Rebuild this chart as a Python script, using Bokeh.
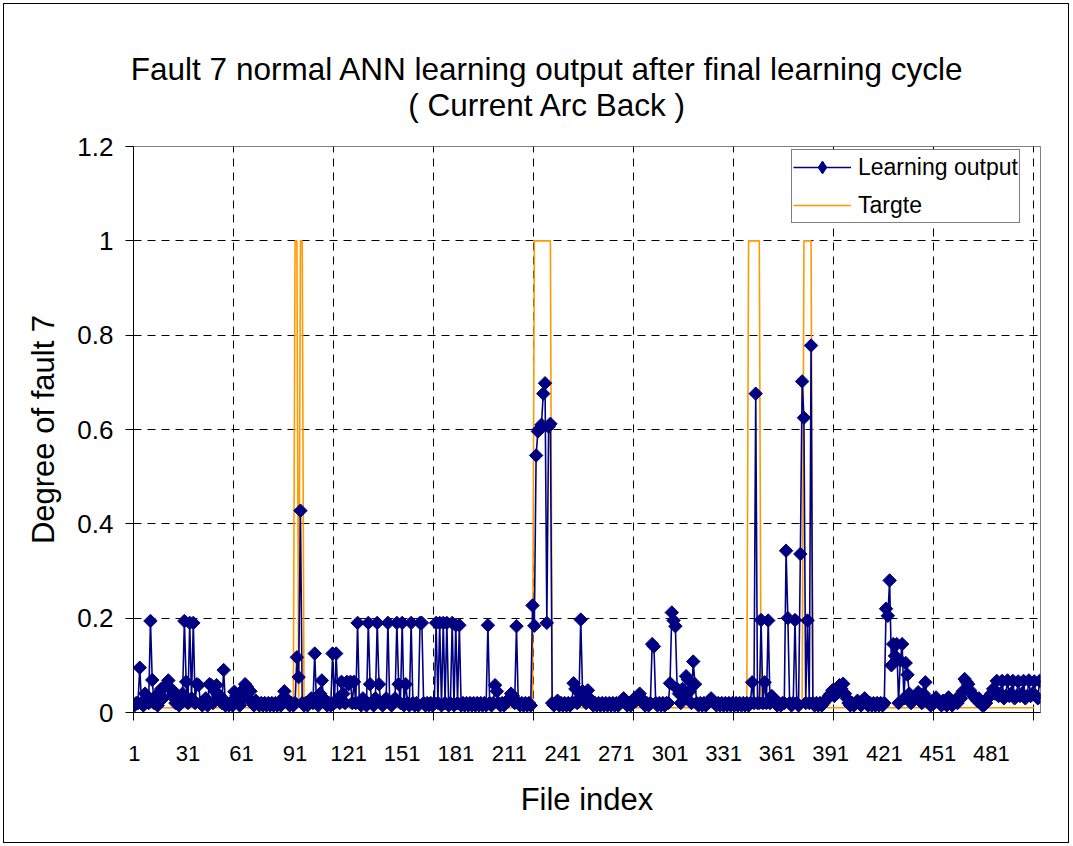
import math
from bokeh.plotting import figure
from bokeh.models import (ColumnDataSource, FixedTicker, Range1d, Legend, Title,
                          LegendItem, NumeralTickFormatter, CDSView, IndexFilter)
from bokeh.embed import file_html
from bokeh.resources import INLINE

# ---------------- data ----------------
TITLE_LINE1 = "Fault 7 normal ANN learning output after final learning cycle"
TITLE_LINE2 = "( Current Arc Back )"
X_LABEL = "File index"
Y_LABEL = "Degree of fault 7"
SERIES_NAMES = ["Learning output", "Targte"]
X_TICK_LABELS = [1, 31, 61, 91, 121, 151, 181, 211, 241, 271, 301, 331, 361, 391, 421, 451, 481]
Y_TICKS = [0.0, 0.2, 0.4, 0.6, 0.8, 1.0, 1.2]
X_TICKMARK_INTERVAL = 56

LEARNING_OUTPUT = [
    0.015, 0.02, 0.02, 0.095, 0.02, 0.015, 0.04, 0.03, 0.02, 0.194,
    0.069, 0.02, 0.035, 0.015, 0.04, 0.05, 0.03, 0.055, 0.06, 0.068,
    0.05, 0.035, 0.045, 0.02, 0.03, 0.015, 0.02, 0.04, 0.194, 0.065,
    0.02, 0.19, 0.03, 0.19, 0.02, 0.06, 0.058, 0.02, 0.015, 0.02,
    0.03, 0.015, 0.06, 0.058, 0.02, 0.045, 0.058, 0.03, 0.035, 0.02,
    0.09, 0.015, 0.02, 0.015, 0.02, 0.015, 0.044, 0.035, 0.02, 0.015,
    0.045, 0.03, 0.06, 0.055, 0.03, 0.045, 0.02, 0.015, 0.025, 0.02,
    0.015, 0.02, 0.015, 0.02, 0.015, 0.02, 0.015, 0.02, 0.015, 0.02,
    0.015, 0.02, 0.015, 0.03, 0.045, 0.03, 0.02, 0.015, 0.02, 0.015,
    0.02, 0.117, 0.075, 0.428, 0.02, 0.015, 0.02, 0.015, 0.02, 0.03,
    0.02, 0.125, 0.02, 0.015, 0.04, 0.068, 0.03, 0.02, 0.015, 0.02,
    0.015, 0.125, 0.02, 0.125, 0.03, 0.02, 0.065, 0.04, 0.02, 0.065,
    0.06, 0.065, 0.02, 0.065, 0.02, 0.19, 0.02, 0.015, 0.03, 0.02,
    0.015, 0.19, 0.06, 0.02, 0.015, 0.03, 0.19, 0.06, 0.02, 0.015,
    0.02, 0.03, 0.19, 0.02, 0.015, 0.02, 0.03, 0.19, 0.06, 0.02,
    0.19, 0.015, 0.06, 0.02, 0.015, 0.19, 0.02, 0.015, 0.02, 0.015,
    0.19, 0.19, 0.02, 0.015, 0.02, 0.015, 0.02, 0.015, 0.02, 0.19,
    0.02, 0.19, 0.015, 0.19, 0.02, 0.19, 0.015, 0.02, 0.19, 0.015,
    0.185, 0.02, 0.185, 0.015, 0.02, 0.015, 0.02, 0.015, 0.02, 0.015,
    0.02, 0.015, 0.02, 0.015, 0.02, 0.015, 0.02, 0.015, 0.185, 0.02,
    0.015, 0.02, 0.058, 0.045, 0.02, 0.015, 0.02, 0.015, 0.02, 0.025,
    0.03, 0.04, 0.035, 0.02, 0.183, 0.02, 0.015, 0.02, 0.015, 0.02,
    0.015, 0.02, 0.015, 0.227, 0.184, 0.545, 0.596, 0.602, 0.61, 0.676,
    0.698, 0.19, 0.606, 0.612, 0.02, 0.015, 0.02, 0.025, 0.015, 0.02,
    0.015, 0.02, 0.015, 0.02, 0.015, 0.02, 0.062, 0.05, 0.02, 0.03,
    0.197, 0.045, 0.03, 0.02, 0.047, 0.03, 0.02, 0.015, 0.02, 0.015,
    0.02, 0.015, 0.02, 0.015, 0.02, 0.015, 0.02, 0.015, 0.02, 0.015,
    0.02, 0.015, 0.02, 0.025, 0.03, 0.02, 0.015, 0.02, 0.015, 0.02,
    0.03, 0.025, 0.035, 0.04, 0.03, 0.02, 0.015, 0.02, 0.015, 0.02,
    0.145, 0.14, 0.02, 0.015, 0.02, 0.015, 0.02, 0.015, 0.02, 0.02,
    0.062, 0.212, 0.195, 0.183, 0.05, 0.04, 0.02, 0.05, 0.035, 0.077,
    0.07, 0.045, 0.02, 0.108, 0.06, 0.02, 0.015, 0.02, 0.015, 0.02,
    0.015, 0.02, 0.025, 0.03, 0.025, 0.02, 0.015, 0.02, 0.015, 0.02,
    0.015, 0.02, 0.015, 0.02, 0.015, 0.02, 0.015, 0.02, 0.015, 0.02,
    0.015, 0.02, 0.015, 0.02, 0.015, 0.02, 0.064, 0.02, 0.676, 0.02,
    0.02, 0.196, 0.02, 0.064, 0.02, 0.195, 0.02, 0.035, 0.03, 0.02,
    0.015, 0.02, 0.015, 0.02, 0.02, 0.343, 0.2, 0.02, 0.015, 0.02,
    0.196, 0.02, 0.015, 0.336, 0.702, 0.625, 0.02, 0.195, 0.02, 0.778,
    0.02, 0.015, 0.02, 0.015, 0.02, 0.015, 0.02, 0.025, 0.03, 0.035,
    0.04, 0.047, 0.035, 0.05, 0.045, 0.058, 0.05, 0.061, 0.04, 0.03,
    0.02, 0.015, 0.02, 0.015, 0.02, 0.025, 0.02, 0.015, 0.025, 0.03,
    0.02, 0.015, 0.02, 0.015, 0.02, 0.015, 0.02, 0.015, 0.02, 0.015,
    0.02, 0.22, 0.205, 0.28, 0.1, 0.145, 0.12, 0.145, 0.02, 0.11,
    0.145, 0.03, 0.105, 0.08, 0.04, 0.02, 0.025, 0.03, 0.035, 0.043,
    0.03, 0.02, 0.04, 0.064, 0.03, 0.02, 0.015, 0.025, 0.02, 0.032,
    0.025, 0.02, 0.015, 0.025, 0.02, 0.015, 0.032, 0.02, 0.015, 0.02,
    0.025, 0.02, 0.035, 0.03, 0.045, 0.071, 0.065, 0.06, 0.047, 0.04,
    0.035, 0.03, 0.025, 0.03, 0.02, 0.015, 0.016, 0.02, 0.03, 0.035,
    0.04, 0.05, 0.04, 0.067, 0.035, 0.04, 0.067, 0.03, 0.035, 0.068,
    0.035, 0.04, 0.067, 0.03, 0.035, 0.066, 0.035, 0.04, 0.067, 0.03,
    0.035, 0.068, 0.035, 0.04, 0.066, 0.035, 0.03, 0.067,
]

# Target: low level everywhere except the fault files listed below
TARGET_LENGTH = 505
TARGET_LOW = 0.01
TARGET_HIGH = 1.0
TARGET_HIGH_FILES = [91, 92, 94, 95,
                     225, 226, 227, 228, 229, 230, 231, 232, 233, 234,
                     345, 346, 347, 348, 349, 350, 351,
                     376, 377, 378, 379, 380]

# ---------------- build sources ----------------
n_out = len(LEARNING_OUTPUT)
out_src = ColumnDataSource(dict(x=list(range(1, n_out + 1)), y=LEARNING_OUTPUT))
target_vals = [TARGET_HIGH if i in TARGET_HIGH_FILES else TARGET_LOW
               for i in range(1, TARGET_LENGTH + 1)]
tgt_src = ColumnDataSource(dict(x=list(range(1, TARGET_LENGTH + 1)), y=target_vals))

FONT = "Liberation Sans"
NAVY = "#000080"
ORANGE = "#FF9900"

W, H = 1066, 840
p = figure(width=W, height=H, output_backend="svg", toolbar_location=None, title=None,
           x_range=Range1d(0.5, n_out + 0.5), y_range=Range1d(0, 1.2),
           min_border_left=129, min_border_right=30, min_border_top=142,
           min_border_bottom=132)
p.background_fill_color = "white"
p.border_fill_color = "white"
p.outline_line_color = "#808080"
p.outline_line_width = 1
p.styles = {"border": "1px solid black", "margin-left": "3px", "margin-top": "3px"}

# ---- x axis: labels every 30 files, tick marks / grid every 56 files ----
tickmarks = [0.5 + X_TICKMARK_INTERVAL * k for k in range(0, n_out // X_TICKMARK_INTERVAL + 1)]
xt = FixedTicker(ticks=X_TICK_LABELS, minor_ticks=tickmarks)
xa = p.xaxis[0]
xa.ticker = xt
xa.major_tick_line_color = None
xa.major_tick_out = 8
xa.major_tick_in = 0
xa.minor_tick_line_color = "black"
xa.minor_tick_out = 8
xa.minor_tick_in = 0
xa.axis_line_color = "black"
xa.major_label_text_font = FONT
xa.major_label_text_font_size = "22px"
xa.major_label_text_color = "black"
xa.major_label_standoff = 25
xa.axis_label = X_LABEL
xa.axis_label_text_font = FONT
xa.axis_label_text_font_size = "31px"
xa.axis_label_text_font_style = "normal"
xa.axis_label_text_color = "black"
xa.axis_label_standoff = 18

p.xgrid.ticker = xt
p.xgrid.grid_line_color = None
p.xgrid.minor_grid_line_color = "black"
p.xgrid.minor_grid_line_dash = "8 6"
p.xgrid.minor_grid_line_width = 1

# ---- y axis ----
ya = p.yaxis[0]
ya.ticker = FixedTicker(ticks=Y_TICKS, minor_ticks=[])
ya.formatter = NumeralTickFormatter(format="0.[0]")
ya.major_tick_out = 8
ya.major_tick_in = 0
ya.major_tick_line_color = "black"
ya.minor_tick_line_color = None
ya.axis_line_color = "black"
ya.major_label_text_font = FONT
ya.major_label_text_font_size = "26px"
ya.major_label_text_color = "black"
ya.major_label_standoff = 12
ya.axis_label = Y_LABEL
ya.axis_label_text_font = FONT
ya.axis_label_text_font_size = "31px"
ya.axis_label_text_font_style = "normal"
ya.axis_label_text_color = "black"
ya.axis_label_standoff = 13

p.ygrid.ticker = FixedTicker(ticks=[t for t in Y_TICKS if 0 < t < max(Y_TICKS)])
p.ygrid.grid_line_color = "black"
p.ygrid.grid_line_dash = "8 6"
p.ygrid.grid_line_width = 1

# ---- series ----
r_tgt = p.line("x", "y", source=tgt_src, line_color=ORANGE, line_width=1.6)
r_line = p.line("x", "y", source=out_src, line_color=NAVY, line_width=1.6)
r_pts = p.scatter("x", "y", source=out_src, marker="square", angle=math.pi / 4,
                  size=9.5, fill_color=NAVY, line_color=NAVY)
# legend key symbol (legend glyphs are drawn unrotated): a diamond drawn only on the
# first file's point, where it is hidden inside that point's own marker
r_key = p.scatter("x", "y", source=out_src, view=CDSView(filter=IndexFilter(indices=[0])),
                  marker="diamond", size=11, fill_color=NAVY, line_color=NAVY)

legend = Legend(items=[LegendItem(label=SERIES_NAMES[0], renderers=[r_line, r_key]),
                       LegendItem(label=SERIES_NAMES[1], renderers=[r_tgt])],
                location=(658, 489))
legend.border_line_color = "black"
legend.border_line_width = 1
legend.background_fill_color = "white"
legend.background_fill_alpha = 1
legend.label_text_font = FONT
legend.label_text_font_size = "23px"
legend.label_text_color = "black"
legend.glyph_width = 58
legend.glyph_height = 32
legend.label_height = 32
legend.spacing = 6
legend.padding = 1
legend.margin = 0
legend.label_standoff = 7
p.add_layout(legend, "center")

# ---- two-line chart title: spacer nearest the plot, then line 2, then line 1 ----
TITLE_CENTER_OFFSET = 414   # px from the frame's left edge to the title centre
title_font_px = 31.5
line2_w = 8.835 * title_font_px
line1_w = 26.455 * title_font_px
p.add_layout(Title(text=" ", text_font_size="10px", standoff=11,
                   text_font=FONT), "above")
p.add_layout(Title(text=TITLE_LINE2, align="left", offset=TITLE_CENTER_OFFSET - line2_w / 2,
                   vertical_align="bottom", standoff=0,
                   text_font=FONT, text_font_size=f"{title_font_px}px",
                   text_font_style="normal", text_color="black"), "above")
p.add_layout(Title(text=TITLE_LINE1, align="left", offset=TITLE_CENTER_OFFSET - line1_w / 2,
                   vertical_align="bottom", standoff=-4,
                   text_font=FONT, text_font_size=f"{title_font_px}px",
                   text_font_style="normal", text_color="black"), "above")

open("out.html", "w").write(file_html(p, INLINE))
